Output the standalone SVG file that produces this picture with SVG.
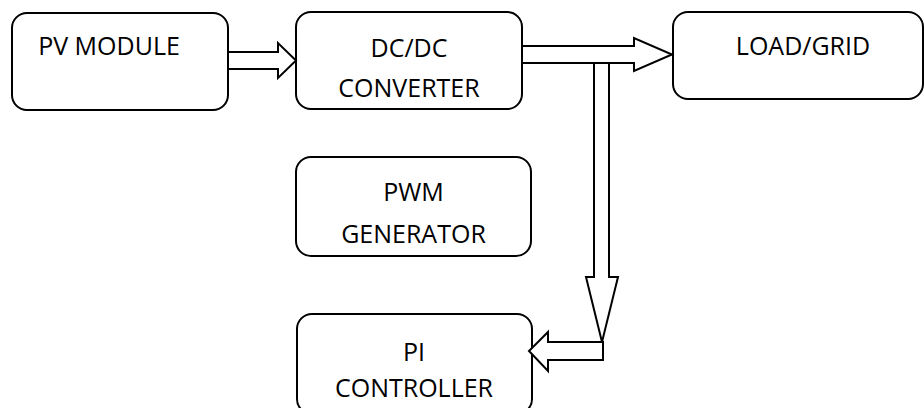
<svg xmlns="http://www.w3.org/2000/svg" width="924" height="408" viewBox="0 0 924 408">
<style>
.box{fill:#fff;stroke:#000;stroke-width:2}
.lbl{font-family:"Open Sans","Liberation Sans",sans-serif;font-size:25px;fill:#000;text-anchor:middle}
.arr{fill:#fff;stroke:#000;stroke-width:2;stroke-linejoin:miter}
</style>
<rect width="924" height="408" fill="#fff"/>
<g id="pv-module">
<rect class="box" x="12" y="13" width="216" height="97" rx="15"/>
<text class="lbl" x="109" y="55">PV MODULE</text>
</g>
<g id="dcdc-converter">
<rect class="box" x="296" y="12" width="226" height="97" rx="15"/>
<text class="lbl" x="409" y="57">DC/DC</text>
<text class="lbl" x="409" y="97">CONVERTER</text>
</g>
<g id="load-grid">
<rect class="box" x="673" y="12" width="250" height="87" rx="15"/>
<text class="lbl" x="803" y="55">LOAD/GRID</text>
</g>
<g id="pwm-generator">
<rect class="box" x="296" y="157" width="235" height="99" rx="15"/>
<text class="lbl" x="413.5" y="201">PWM</text>
<text class="lbl" x="413.5" y="243">GENERATOR</text>
</g>
<g id="pi-controller">
<rect class="box" x="297" y="314" width="235" height="100" rx="15"/>
<text class="lbl" x="414" y="361">PI</text>
<text class="lbl" x="414" y="397">CONTROLLER</text>
</g>
<g id="connectors">
<polygon class="arr" points="228,52 278,52 278,43 296,60.5 278,78 278,69 228,69"/>
<path class="arr" d="M594,63 L594,277 L586,277 L602,342 L618,277 L609,277 L609,63"/>
<polygon class="arr" points="522,46 634,46 634,38 672,54.5 634,71 634,63 522,63"/>
<polygon class="arr" points="603,342 548,342 548,332 529,351 548,371 548,360 603,360"/>
</g>
</svg>
